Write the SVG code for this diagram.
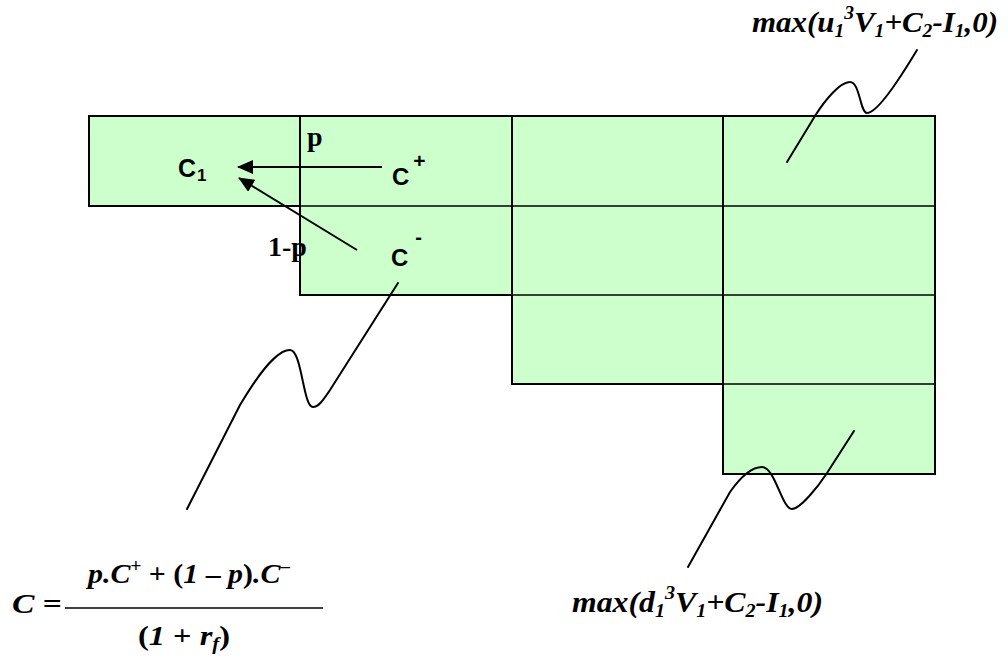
<svg xmlns="http://www.w3.org/2000/svg" width="1008" height="663" viewBox="0 0 1008 663">
<style>
.cell{fill:#CCFFCC;stroke:#000;stroke-width:2}
.inner{stroke:#000;stroke-width:1.3}
.sans{font-family:"Liberation Sans",Arial,sans-serif;font-weight:bold;fill:#000}
.serif{font-family:"Liberation Serif","Times New Roman",serif;font-weight:bold;fill:#000}
.it{font-family:"Liberation Serif","Times New Roman",serif;font-weight:bold;font-style:italic;fill:#000}
.conn{fill:none;stroke:#000;stroke-width:2}
.curve{fill:none;stroke:#000;stroke-width:2;stroke-linecap:round}
</style>
<defs>
<marker id="ah" viewBox="0 0 16 14" refX="15" refY="7" markerWidth="16" markerHeight="14" markerUnits="userSpaceOnUse" orient="auto">
<path d="M0,0 L16,7 L0,14 z" fill="#000"/>
</marker>
</defs>
<g id="col0"><rect class="cell" x="89" y="116" width="211" height="90"/></g>
<g id="col1"><rect class="cell" x="300" y="116" width="212" height="179"/><line class="inner" x1="300" y1="206" x2="512" y2="206"/></g>
<g id="col2"><rect class="cell" x="512" y="116" width="211" height="268"/><line class="inner" x1="512" y1="206" x2="723" y2="206"/><line class="inner" x1="512" y1="295" x2="723" y2="295"/></g>
<g id="col3"><rect class="cell" x="723" y="116" width="212" height="358"/><line class="inner" x1="723" y1="206" x2="935" y2="206"/><line class="inner" x1="723" y1="295" x2="935" y2="295"/><line class="inner" x1="723" y1="384" x2="935" y2="384"/></g>
<g id="labels">
<text class="sans" x="178" y="177" font-size="25">C<tspan font-size="17" dy="4" dx="1">1</tspan></text>
<text class="sans" x="392" y="185" font-size="24">C<tspan font-size="21" dy="-17" dx="4">+</tspan></text>
<text class="sans" x="391" y="266" font-size="24">C<tspan font-size="20" dy="-22" dx="7">-</tspan></text>
<text class="serif" x="307" y="146" font-size="28">p</text>
<text class="serif" x="268" y="256" font-size="28">1-p</text>
</g>
<g id="connectors">
<line class="conn" x1="382" y1="167" x2="238" y2="167" marker-end="url(#ah)"/>
<line class="conn" x1="357" y1="250" x2="239" y2="178" marker-end="url(#ah)"/>
<path class="curve" d="M787,162 L815,116 C825,100 840,82 850,82 C860,82 860,113 867,113 C875,113 890,95 917,50"/>
<path class="curve" d="M398,283 L330,390 C322,402 318,407 313,407 C303,407 302,350 290,350 C276,350 258,375 240,405 L187,509"/>
<path class="curve" d="M854,431 L827,473 C818,487 800,509 792,509 C782,509 775,467 762,467 C752,467 742,475 730,492 L688,567"/>
</g>
<g id="top-label">
<text class="it" x="752" y="32" font-size="30" textLength="246" lengthAdjust="spacingAndGlyphs">max(u<tspan font-size="19" dy="5">1</tspan><tspan font-size="19" dy="-18">3</tspan><tspan dy="13">V</tspan><tspan font-size="19" dy="5">1</tspan><tspan dy="-5">+C</tspan><tspan font-size="19" dy="5">2</tspan><tspan dy="-5">-I</tspan><tspan font-size="19" dy="5">1</tspan><tspan dy="-5">,0)</tspan></text>
</g>
<g id="bottom-label">
<text class="it" x="572" y="612" font-size="30" textLength="251" lengthAdjust="spacingAndGlyphs">max(d<tspan font-size="19" dy="5">1</tspan><tspan font-size="19" dy="-18">3</tspan><tspan dy="13">V</tspan><tspan font-size="19" dy="5">1</tspan><tspan dy="-5">+C</tspan><tspan font-size="19" dy="5">2</tspan><tspan dy="-5">-I</tspan><tspan font-size="19" dy="5">1</tspan><tspan dy="-5">,0)</tspan></text>
</g>
<g id="formula">
<text class="it" x="12" y="613" font-size="27" textLength="50" lengthAdjust="spacingAndGlyphs">C <tspan font-style="normal">=</tspan></text>
<line x1="65" y1="608" x2="323" y2="608" stroke="#000" stroke-width="1.3"/>
<text class="it" x="88" y="583" font-size="28" textLength="202" lengthAdjust="spacingAndGlyphs">p.C<tspan font-size="18" dy="-11">+</tspan><tspan dy="11" font-style="normal"> + (</tspan>1 <tspan font-style="normal">–</tspan> p<tspan font-style="normal">)</tspan>.C<tspan font-size="18" dy="-11">–</tspan></text>
<text class="it" x="138" y="645" font-size="28" textLength="92" lengthAdjust="spacingAndGlyphs"><tspan font-style="normal">(</tspan>1 <tspan font-style="normal">+</tspan> r<tspan font-size="18" dy="5">f</tspan><tspan dy="-5" font-style="normal">)</tspan></text>
</g>
</svg>
